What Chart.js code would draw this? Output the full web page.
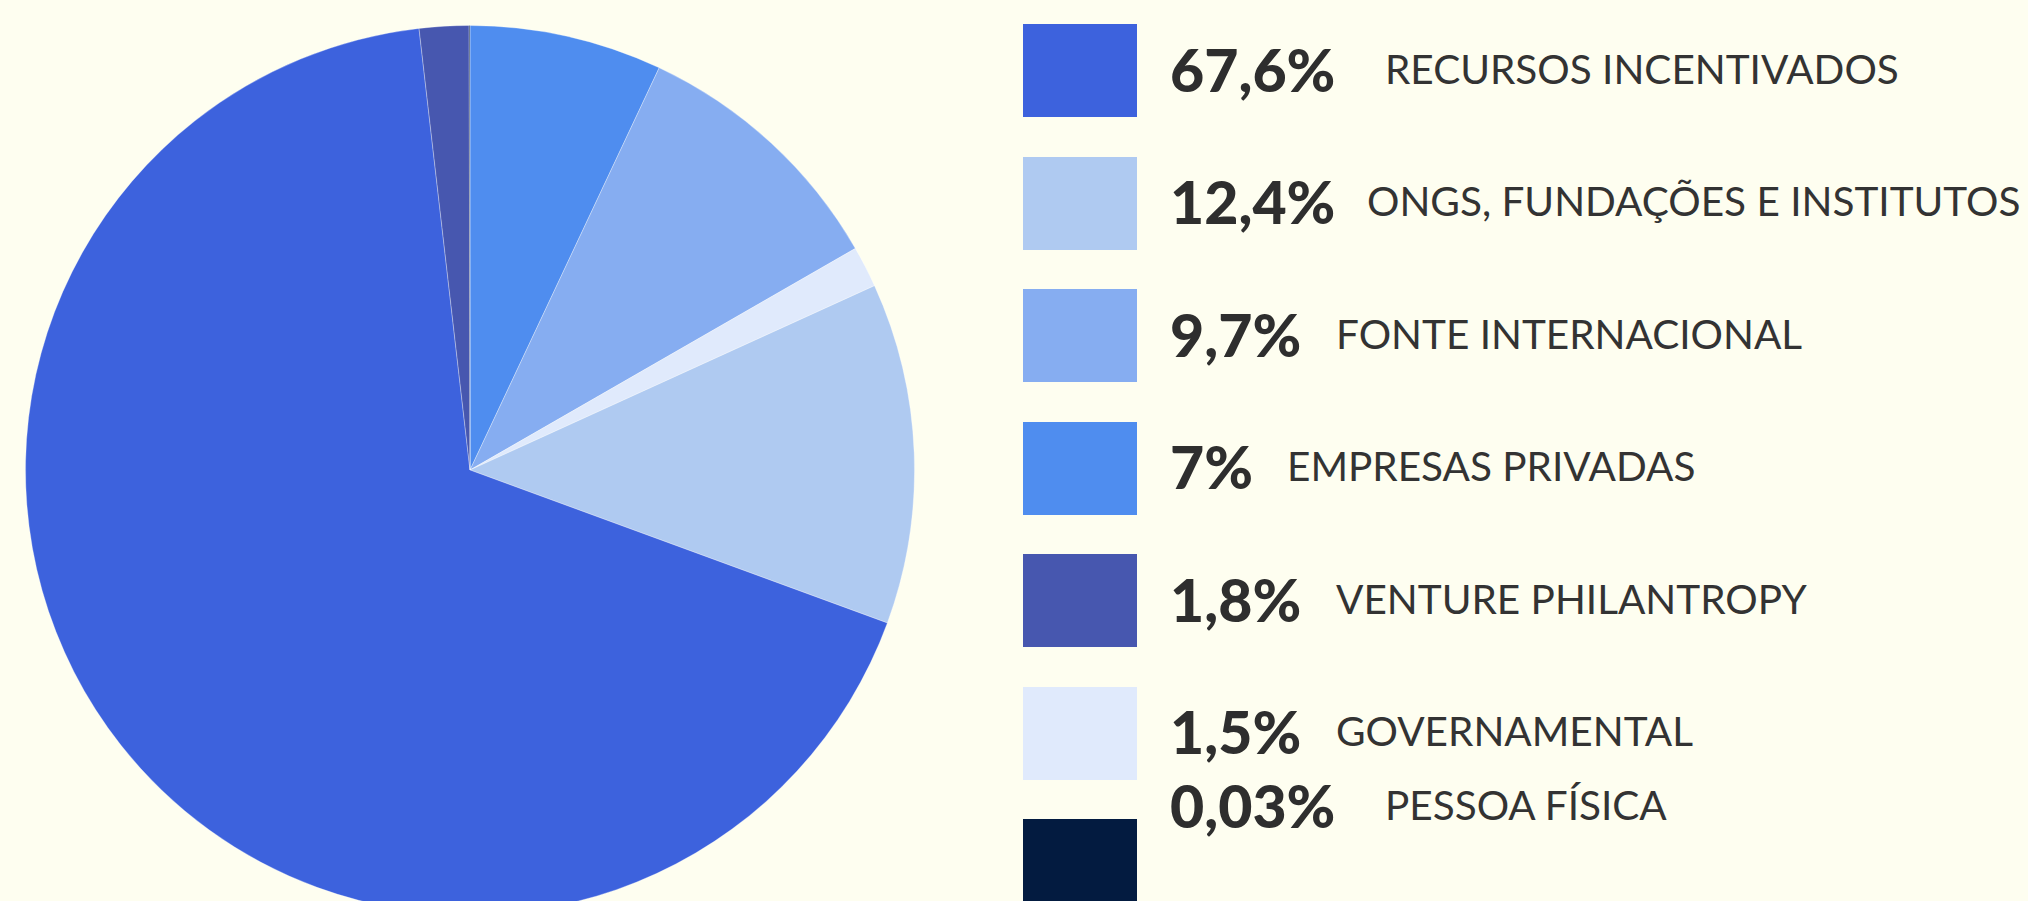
<!DOCTYPE html>
<html>
<head>
<meta charset="utf-8">
<script src="https://cdn.jsdelivr.net/npm/chart.js@4"></script>
<style>
    html, body { margin: 0; padding: 0; background: #fefef0; overflow: hidden; width: 2028px; height: 901px; }
    #pie-wrap { position: absolute; left: 25px; top: 25px; width: 890px; height: 890px; }
    #legend { position: absolute; left: 0; top: 0; }
    .box { position: absolute; width: 114px; height: 93px; left: 1023px; }
    .pct, .lbl { position: absolute; white-space: nowrap; font-family: Lato, sans-serif; line-height: 1; }
    .pct { left: 1170px; font-size: 59px; font-weight: 900; color: #2e2e2e; }
    .lbl { font-size: 40.5px; font-weight: 400; color: #333; }
</style>
</head>
<body>
<div id="pie-wrap"><canvas id="pie-chart" width="890" height="890"></canvas></div>
<div id="legend"></div>
<script>
// legend order
const categories = ['RECURSOS INCENTIVADOS', 'ONGS, FUNDAÇÕES E INSTITUTOS', 'FONTE INTERNACIONAL', 'EMPRESAS PRIVADAS', 'VENTURE PHILANTROPY', 'GOVERNAMENTAL', 'PESSOA FÍSICA'];
const shares = [67.6, 12.4, 9.7, 7, 1.8, 1.5, 0.03];
const colors = ['#3d62dd', '#afcaf1', '#86adf1', '#4f8def', '#4757af', '#e0eafc', '#031b40'];
// order of slices clockwise from 12 o'clock
const sliceOrder = [3, 2, 5, 1, 0, 4, 6];

// legend layout: where each label starts, vertical shift of the text
const labelX = [1385, 1367, 1336, 1287, 1336, 1336, 1385];
const textShift = [0, 0, 0, 0, 0, 0, -59];

function fmt(v) {
    return String(v).replace('.', ',') + '%';
}

const legend = document.getElementById('legend');
categories.forEach((name, i) => {
    const top = 24 + i * 132.5;
    const mid = top + 46.5 + textShift[i];

    const box = document.createElement('div');
    box.className = 'box';
    box.style.top = top + 'px';
    box.style.background = colors[i];
    legend.appendChild(box);

    const pct = document.createElement('span');
    pct.className = 'pct';
    pct.textContent = fmt(shares[i]);
    pct.style.top = (mid - 31) + 'px';
    legend.appendChild(pct);

    const lbl = document.createElement('span');
    lbl.className = 'lbl';
    lbl.textContent = name;
    lbl.style.left = labelX[i] + 'px';
    lbl.style.top = (mid - 22) + 'px';
    legend.appendChild(lbl);
});

const ctx = document.getElementById('pie-chart').getContext('2d');
new Chart(ctx, {
    type: 'pie',
    data: {
        labels: sliceOrder.map(i => categories[i]),
        datasets: [{
            data: sliceOrder.map(i => shares[i]),
            backgroundColor: sliceOrder.map(i => colors[i]),
            borderColor: 'rgba(255, 255, 255, 0.3)',
            borderWidth: 1
        }]
    },
    options: {
        responsive: false,
        animation: false,
        layout: { padding: 0 },
        plugins: {
            legend: { display: false },
            tooltip: { enabled: false }
        }
    }
});
</script>
</body>
</html>
